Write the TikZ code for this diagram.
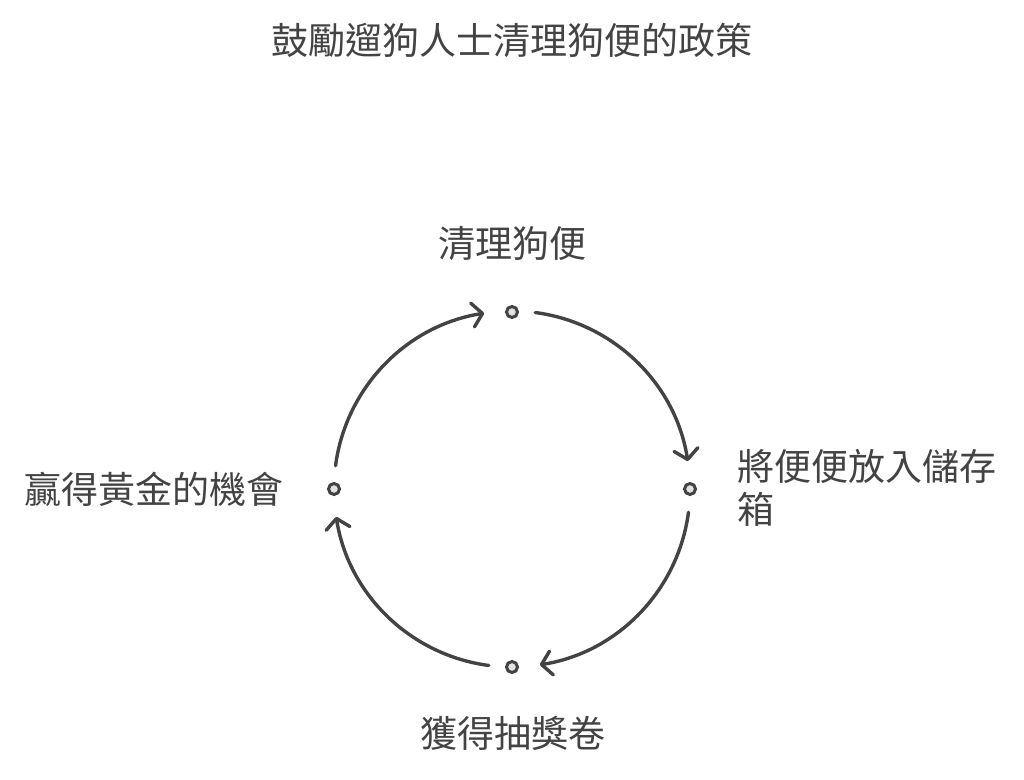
\documentclass[tikz,border=0pt]{standalone}
\usepackage{fontspec}
\newfontfamily\cjk{Noto Sans CJK TC}
\usetikzlibrary{arrows.meta}
\definecolor{ink}{HTML}{434343}
\definecolor{dotfill}{HTML}{E2E2E2}
\begin{document}
\begin{tikzpicture}[x=1pt,y=1pt,
  lbl/.style={inner sep=0pt, text=ink, font=\cjk\fontsize{37}{43}\selectfont},
  dot/.style={circle, draw=ink, fill=dotfill, line width=3pt, minimum size=11pt, inner sep=0pt},
  arr/.style={draw=ink, line width=3.4pt, line cap=round, -{Straight Barb[length=10pt,width=24pt,round]}}]
\useasboundingbox (0,0) rectangle (1024,779);
\coordinate (c) at (512,290);
\node[lbl] (title) at (512,739) {鼓勵遛狗人士清理狗便的政策};
\node[dot] (top) at (512,467) {};
\node[dot] (right) at (690,290) {};
\node[dot] (bottom) at (512,112) {};
\node[dot] (left) at (334,290) {};
\node[lbl] (ltop) at (512.5,535) {清理狗便};
\node[lbl, anchor=west, align=left] (lright) at (737,291) {將便便放入儲存\\箱};
\node[lbl, anchor=east] (lleft) at (284,290) {贏得黃金的機會};
\node[lbl] (lbottom) at (512.5,46) {獲得抽獎卷};
\draw[arr] ([shift={(172.5:178)}]c) arc[start angle=172.5, end angle=99, radius=178];
\draw[arr] ([shift={(82.5:178)}]c) arc[start angle=82.5, end angle=9, radius=178];
\draw[arr] ([shift={(-7.5:178)}]c) arc[start angle=-7.5, end angle=-81, radius=178];
\draw[arr] ([shift={(-97.5:178)}]c) arc[start angle=-97.5, end angle=-171, radius=178];
\end{tikzpicture}
\end{document}
